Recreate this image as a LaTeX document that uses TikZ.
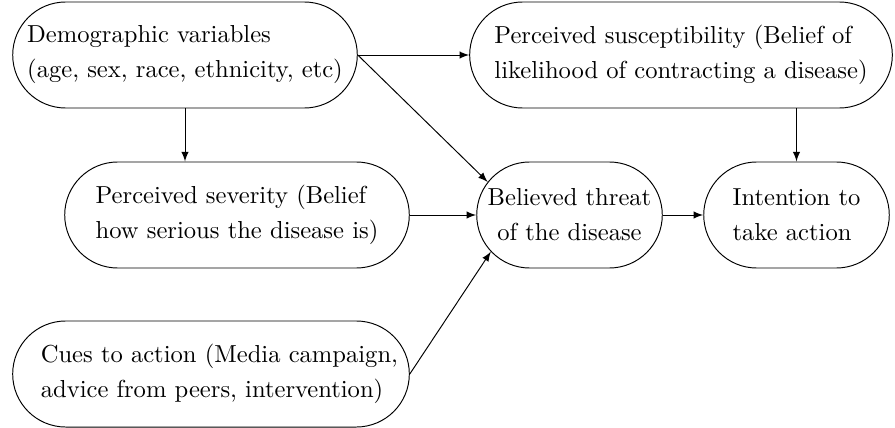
\documentclass[tikz,border=0pt]{standalone}
\usetikzlibrary{shapes.misc,arrows}
\begin{document}
\begin{tikzpicture}[x=0.415pt,y=-0.415pt,
  box/.style={draw, rounded rectangle, minimum height=44pt, inner sep=2pt,
    line width=0.4pt, font=\fontsize{10.2}{14.5}\selectfont},
  link/.style={-latex, line width=0.4pt}]
\useasboundingbox (0,0) rectangle (895,427);

\node[box, align=left, minimum width=147pt] (demo) at (185,55)
  {Demographic variables\\(age, sex, race, ethnicity, etc)};
\node[box, align=left, minimum width=179.4pt] (susc) at (681,55)
  {Perceived susceptibility (Belief of\\likelihood of contracting a disease)};
\node[box, align=left, minimum width=147pt] (sev) at (237,215)
  {Perceived severity (Belief\\how serious the disease is)};
\node[box, align=center, minimum width=81pt] (threat) at (569.5,215)
  {Believed threat\\of the disease};
\node[box, align=left, minimum width=81pt] (act) at (796.5,215)
  {Intention to\\take action};
\node[box, align=left, minimum width=168.6pt] (cues) at (211,374)
  {\hspace*{7pt}Cues to action (Media campaign,\\\hspace*{7pt}advice from peers, intervention)};

\draw[link] (demo.east) -- (susc.west);
\draw[link] (demo.south) -- (demo.south |- sev.north);
\draw[link] (demo.east) -- (threat.158);
\draw[link] (sev.east) -- (threat.west);
\draw[link] (cues.east) -- (threat.205);
\draw[link] (threat.east) -- (act.west);
\draw[link] (act.north |- susc.south) -- (act.north);
\end{tikzpicture}
\end{document}
